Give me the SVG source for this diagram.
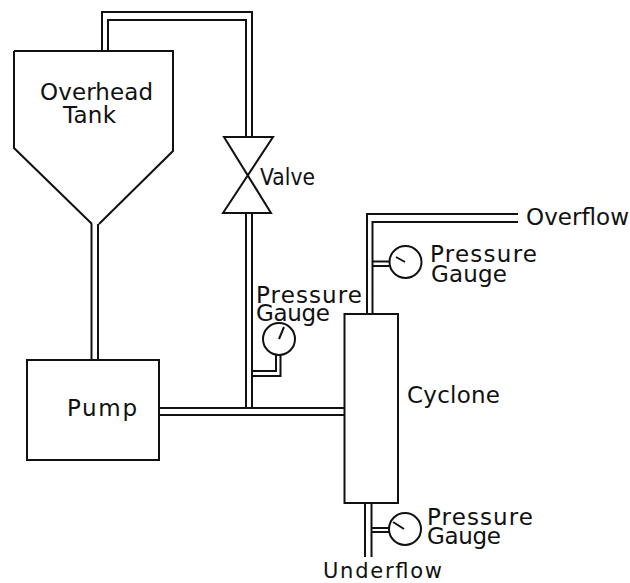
<svg xmlns="http://www.w3.org/2000/svg" width="630" height="583" viewBox="0 0 630 583">
<style>
.s{fill:none;stroke:#111;stroke-width:2;stroke-linejoin:miter}
.t{font-family:"DejaVu Sans","Liberation Sans",sans-serif;font-size:23px;fill:#111}
</style>
<rect width="630" height="583" fill="#fff"/>
<g id="connectors">
<path class="s" d="M102 51V12H252V137M108 51V20H246V137"/>
<path class="s" d="M91.500 224V360M98 224V360"/>
<path class="s" d="M246 213V408M252 213V408"/>
<path class="s" d="M160 408H344M160 415H344"/>
<path class="s" d="M252 371H276V355M252 376H280.500V355"/>
<path class="s" d="M518 214H367V314M518 222H372.500V314"/>
<path class="s" d="M373 261.500H390M373 266H390"/>
<path class="s" d="M365 503V557M371.500 503V557"/>
<path class="s" d="M372 528H389M372 532H389"/>
</g>
<g id="tank"><path class="s" d="M14 51H173V151L99 224M14 51V148L92 224"/><text class="t" x="40" y="100" textLength="113" lengthAdjust="spacing">Overhead</text><text class="t" x="63" y="123" textLength="53" lengthAdjust="spacing">Tank</text></g>
<g id="valve"><path class="s" d="M224 137H273L223 213H271Z"/><text class="t" x="260" y="185" textLength="55" lengthAdjust="spacingAndGlyphs">Valve</text></g>
<g id="pump"><rect class="s" x="27" y="360" width="132" height="100"/><text class="t" x="67" y="416" textLength="70" lengthAdjust="spacing">Pump</text></g>
<g id="cyclone"><rect class="s" x="344.500" y="314" width="53.500" height="189"/><text class="t" x="407" y="403" textLength="93" lengthAdjust="spacing">Cyclone</text></g>
<g id="gauge-valve"><circle class="s" cx="279" cy="339" r="16"/><path class="s" d="M279 339L284 327"/><text class="t" x="256" y="303" textLength="106" lengthAdjust="spacing">Pressure</text><text class="t" x="256" y="321" textLength="74" lengthAdjust="spacing">Gauge</text></g>
<g id="gauge-overflow"><circle class="s" cx="405.500" cy="262" r="16"/><path class="s" d="M396 257L405 262"/><text class="t" x="430" y="262" textLength="107" lengthAdjust="spacing">Pressure</text><text class="t" x="431" y="282" textLength="76" lengthAdjust="spacing">Gauge</text></g>
<g id="gauge-underflow"><circle class="s" cx="405" cy="529" r="16"/><path class="s" d="M393 522L404 529"/><text class="t" x="427" y="525" textLength="106" lengthAdjust="spacing">Pressure</text><text class="t" x="427" y="544" textLength="74" lengthAdjust="spacing">Gauge</text></g>
<g id="overflow"><text class="t" x="526" y="225" textLength="103" lengthAdjust="spacing">Overflow</text></g>
<g id="underflow"><text class="t" x="323" y="578" textLength="119" lengthAdjust="spacing" style="font-size:21px">Underflow</text></g>
</svg>
